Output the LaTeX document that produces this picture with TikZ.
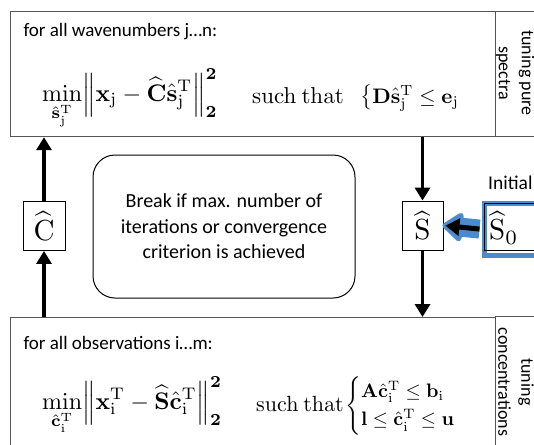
\documentclass[tikz,border=0pt]{standalone}
\usepackage[no-math]{fontspec}
\setmainfont{Carlito}
\usepackage{amsmath}
\usetikzlibrary{arrows.meta}
\definecolor{edge}{RGB}{85,85,85}
\definecolor{halo}{RGB}{74,138,206}
\tikzset{
  panel/.style={draw=edge, line width=1.2pt, anchor=north west, inner sep=0pt},
  smallbox/.style={draw=black, line width=0.9pt, fill=white, inner sep=0pt,
    minimum width=41pt, minimum height=49pt},
  arr/.style={line width=3.8pt, -{Triangle[width=15pt,length=13pt]}},
  sidetext/.style={rotate=-90, align=center, font=\fontsize{18}{23}\selectfont},
  headtext/.style={anchor=base west, font=\fontsize{19}{23}\selectfont},
  eqw/.style={anchor=base west, inner sep=0pt},
  eqe/.style={anchor=base east, inner sep=0pt},
}
\begin{document}
\begin{tikzpicture}[x=1pt,y=-1pt]
\useasboundingbox (0,0) rectangle (534,444);
\fill[white] (0,0) rectangle (534,444);

% top panel
\node[panel, minimum width=485pt, minimum height=125pt] (topbox) at (10,11) {};
\node[panel, minimum width=50pt, minimum height=125pt] (topstrip) at (495,11) {};
\node[headtext] (tophead) at (20,37) {for all wavenumbers j…n:};
\node[eqw] (topeq) at (42,101) {\scalebox{2.4}{$\displaystyle \min_{\hat{\mathbf{s}}_{\mathrm{j}}^{\mathrm{T}}}\Bigl\|\mathbf{x}_{\mathrm{j}}-\widehat{\mathbf{C}}\hat{\mathbf{s}}_{\mathrm{j}}^{\mathrm{T}}\Bigr\|_{\mathbf{2}}^{\mathbf{2}}$}};
\node[eqw] (topsuch) at (252,103) {\scalebox{2.3}{$\mathrm{such\ that}$}};
\node[eqe] (topcond) at (459,103) {\scalebox{2.1}{$\bigl\{\mathbf{D}\hat{\mathbf{s}}_{\mathrm{j}}^{\mathrm{T}}\leq\mathbf{e}_{\mathrm{j}}$}};
\node[sidetext] (toplabel) at (515,73) {tuning pure\\spectra};

% bottom panel
\node[panel, minimum width=485pt, minimum height=140pt] (botbox) at (10,317) {};
\node[panel, minimum width=50pt, minimum height=140pt] (botstrip) at (495,316) {};
\node[headtext] (bothead) at (20,349) {for all observations i…m:};
\node[eqw] (boteq) at (42,409) {\scalebox{2.4}{$\displaystyle \min_{\hat{\mathbf{c}}_{\mathrm{i}}^{\mathrm{T}}}\Bigl\|\mathbf{x}_{\mathrm{i}}^{\mathrm{T}}-\widehat{\mathbf{S}}\hat{\mathbf{c}}_{\mathrm{i}}^{\mathrm{T}}\Bigr\|_{\mathbf{2}}^{\mathbf{2}}$}};
\node[eqw] (botsuch) at (256,411) {\scalebox{2.2}{$\mathrm{such\ that}$}};
\node[eqe] (botcond) at (476,411) {\scalebox{1.95}{\renewcommand{\arraystretch}{1.65}$\begin{cases}\mathbf{A}\hat{\mathbf{c}}_{\mathrm{i}}^{\mathrm{T}}\leq\mathbf{b}_{\mathrm{i}}\\ \mathbf{l}\leq\hat{\mathbf{c}}_{\mathrm{i}}^{\mathrm{T}}\leq\mathbf{u}\end{cases}$}};
\node[sidetext] (botlabel) at (516,382) {tuning\\concentrations};

% middle
\node[smallbox, minimum width=42pt] (cbox) at (44,226) {\scalebox{2.9}{$\widehat{\mathrm{C}}$}};
\node[smallbox] (sbox) at (422.5,225.5) {\scalebox{2.9}{$\widehat{\mathrm{S}}$}};
\node[draw=black, line width=1pt, rounded corners=22pt, minimum width=262pt, minimum height=143pt,
  align=center, font=\fontsize{20}{25.5}\selectfont] (brk) at (224,226.5)
  {Break if max. number of\\iterations or convergence\\criterion is achieved};

% initial guess
\node[draw=halo, line width=5pt, anchor=north west, minimum width=70pt, minimum height=52.5pt, inner sep=0pt] (s0) at (481.5,200.5) {};
\draw[black, line width=0.8pt] (484,203) rectangle (560,250.5);
\node[anchor=west, inner sep=0pt] (s0text) at (489,228) {\scalebox{2.9}{$\widehat{\mathrm{S}}_0$}};
\node[anchor=base west, inner sep=0pt, font=\fontsize{19.5}{22}\selectfont] (initlabel) at (488,189) {Initial};

% connectors
\draw[arr] (cbox.north) -- (cbox.north |- topbox.south);
\draw[arr] (cbox.south |- botbox.north) -- (cbox.south);
\draw[arr] (sbox.north |- topbox.south) -- (sbox.north);
\draw[arr] (sbox.south) -- (sbox.south |- botbox.north);
\draw[halo, line width=19pt, line join=round, -{Triangle[width=33pt,length=22pt,round]}, shorten <=2pt, shorten >=-1pt] (s0.west) -- (sbox.east);
\draw[black, line width=5pt, -{Triangle[width=17pt,length=14pt]}, shorten >=2pt, shorten <=2pt] (s0.west) -- (sbox.east);
\end{tikzpicture}
\end{document}
